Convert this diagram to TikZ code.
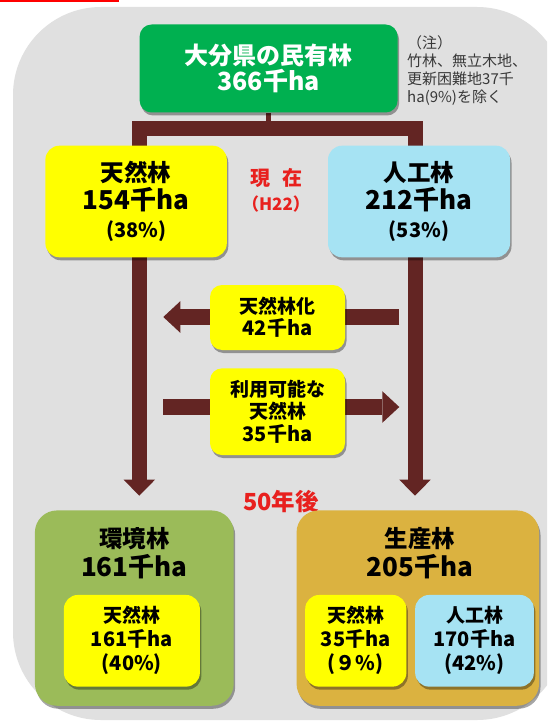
\documentclass[tikz,border=0pt]{standalone}
\usepackage{fontspec}
\newfontfamily\jp{Noto Sans CJK JP}
\usetikzlibrary{shadows,arrows.meta}
\definecolor{bggray}{HTML}{E0E0E0}
\definecolor{topgreen}{HTML}{00B050}
\definecolor{ylw}{HTML}{FFFF00}
\definecolor{lblue}{HTML}{A6E3F3}
\definecolor{brn}{HTML}{632523}
\definecolor{envgreen}{HTML}{9BBB59}
\definecolor{gold}{HTML}{DBB240}
\definecolor{redtxt}{HTML}{E8201E}
\definecolor{notegray}{HTML}{383838}
\newcommand\setfs[1]{\fontsize{#1}{#1}\selectfont}
\pgfdeclarelayer{bg}
\pgfdeclarelayer{conn}
\pgfsetlayers{bg,conn,main}
\begin{document}
\begin{tikzpicture}[x=1pt,y=-1pt,
  box/.style={rounded corners=12pt, align=center, inner sep=0pt, text=black,
    drop shadow={opacity=0.35, shadow xshift=1.5pt, shadow yshift=-3pt, fill=black}},
  bigbox/.style={box, rounded corners=22pt},
  tip/.style={-{Triangle[width=31.6pt,length=17pt,line width=0pt]}},
  trunk/.style={draw=brn, line width=15pt, line join=miter,
    {Triangle[width=31.4pt,length=16pt,line width=0pt]}-{Triangle[width=31.4pt,length=16pt,line width=0pt]}},
  redlbl/.style={text=redtxt, font=\jp\bfseries, align=center, inner sep=0pt},
  titlelbl/.style={text=black, align=center, inner sep=0pt, font=\jp\bfseries\fontsize{20}{29.6}\selectfont}
]
\useasboundingbox (0,0) rectangle (547,722);
\begin{pgfonlayer}{bg}
  \clip (0,0) rectangle (547,722);
  \fill[white] (0,0) rectangle (547,722);
  \fill[bggray, rounded corners=88pt] (13,7) rectangle (565,720);
  \fill[red] (0,0) rectangle (118.6,2.5);
\end{pgfonlayer}

% boxes
\node[box, fill=topgreen, text=white, minimum width=258pt, minimum height=88pt,
  font=\jp\bfseries\fontsize{24}{26}\selectfont] (top) at (268.6,68.5)
  {{\setfs{24}大分県の民有林}\\{\setfs{25}366千ha}};
\node[anchor=north west, align=left, inner sep=0pt, text=notegray,
  font=\jp\fontsize{15}{18.3}\selectfont] (note) at (407,35)
  {（注）\\竹林、無立木地、\\更新困難地37千\\ha(9\%)を除く};

\node[box, rounded corners=14pt, fill=ylw, minimum width=181.4pt, minimum height=111.6pt,
  font=\jp\bfseries\fontsize{20}{28}\selectfont] (nat) at (136.1,201.5)
  {{\setfs{23.5}天然林}\\{\setfs{26}154千ha}\\{\setfs{20}(38\%)}};
\node[box, rounded corners=14pt, fill=lblue, minimum width=182pt, minimum height=111.6pt,
  font=\jp\bfseries\fontsize{20}{28}\selectfont] (art) at (419,201.5)
  {{\setfs{23.5}人工林}\\{\setfs{26}212千ha}\\{\setfs{20}(53\%)}};

\node[redlbl, font=\jp\bfseries\fontsize{20}{20}\selectfont] (now) at (276,178) {現\hspace{0.6em}在};
\node[redlbl, font=\jp\bfseries\fontsize{17}{17}\selectfont] (h22) at (276,204) {（H22）};

\node[box, fill=ylw, minimum width=135pt, minimum height=65pt,
  font=\jp\bfseries\fontsize{19}{22}\selectfont] (nka) at (277.5,317.5)
  {天然林化\\{\setfs{20}42千ha}};
\node[box, fill=ylw, minimum width=135pt, minimum height=86.7pt,
  font=\jp\bfseries\fontsize{19}{22.3}\selectfont] (avl) at (277.5,411.7)
  {利用可能な\\天然林\\{\setfs{20}35千ha}};

\node[redlbl, font=\jp\bfseries\fontsize{23.5}{23.5}\selectfont] (later) at (281,502) {50年後};

\node[bigbox, fill=envgreen, minimum width=198.8pt, minimum height=195.3pt] (env) at (134.3,608.1) {};
\node[titlelbl] (envT) at (134.3,553.2) {{\setfs{23.5}環境林}\\{\setfs{26}161千ha}};
\node[box, rounded corners=14pt, fill=ylw, minimum width=136pt, minimum height=91.7pt,
  font=\jp\bfseries\fontsize{19}{24}\selectfont] (envN) at (131.9,640.8)
  {天然林\\{\setfs{20}161千ha}\\{\setfs{20}(40\%)}};

\node[bigbox, fill=gold, minimum width=242.5pt, minimum height=195.3pt] (prod) at (417.8,608.1) {};
\node[titlelbl] (prodT) at (420,553.2) {{\setfs{23.5}生産林}\\{\setfs{26}205千ha}};
\node[box, rounded corners=14pt, fill=ylw, minimum width=101.2pt, minimum height=91.7pt,
  font=\jp\bfseries\fontsize{19}{24}\selectfont] (prodN) at (355.8,640.8)
  {天然林\\{\setfs{20}35千ha}\\{\setfs{20}(９\%)}};
\node[box, rounded corners=14pt, fill=lblue, minimum width=118.7pt, minimum height=91.7pt,
  font=\jp\bfseries\fontsize{19}{24}\selectfont] (prodA) at (474.5,640.8)
  {人工林\\{\setfs{20}170千ha}\\{\setfs{20}(42\%)}};

% connectors
\begin{pgfonlayer}{conn}
  \coordinate (barL) at (139.3,129);
  \coordinate (barR) at (415,129);
  \coordinate (tipL) at (139.3,495.7);
  \coordinate (tipR) at (415,495.7);
  \draw[brn, line width=5pt] (top.south) -- (top.south |- barL);
  \draw[trunk] (tipL) -- (barL) -- (barR) -- (tipR);
  \coordinate (h1R) at (399.3,317);
  \coordinate (h1L) at (163.3,317);
  \draw[brn, line width=16pt, tip] (h1R) -- (h1L);
  \coordinate (h2L) at (163.3,407);
  \coordinate (h2R) at (399.3,407);
  \draw[brn, line width=15.6pt, tip] (h2L) -- (h2R);
\end{pgfonlayer}
\end{tikzpicture}
\end{document}
